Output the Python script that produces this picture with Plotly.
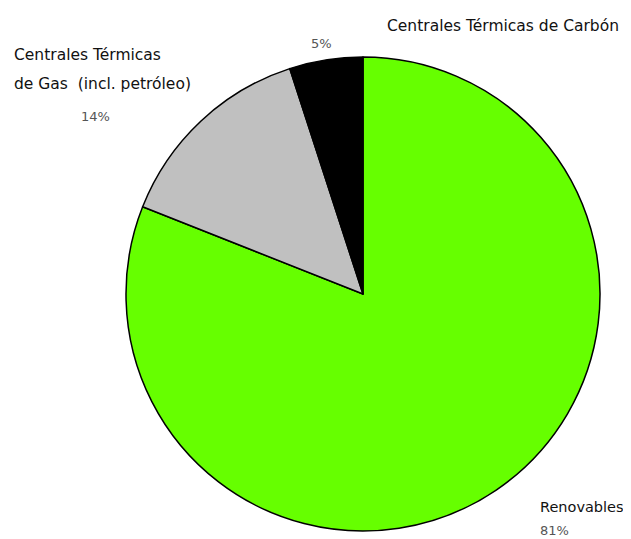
import plotly.graph_objects as go

# The page body has an 8px margin, so the figure is drawn 8px in from the window edge.
OFF = 8
W, H = 631 - OFF, 539 - OFF

labels = ["Renovables", "Centrales Térmicas de Gas  (incl. petróleo)", "Centrales Térmicas de Carbón"]
values = [81, 14, 5]
pct_text = ["81%", "14%", "5%"]
colors = ["#66FF00", "#C0C0C0", "#000000"]

# Pie placement in window pixels (center, radius)
cx, cy, r = 363, 294, 237

def px(x):
    return (x - OFF) / W

def py(y):
    return 1 - (y - OFF) / H

fig = go.Figure(go.Pie(
    labels=labels,
    values=values,
    sort=False,
    direction="clockwise",
    rotation=0,
    textinfo="none",
    hoverinfo="label+percent",
    marker=dict(colors=colors, line=dict(color="#000000", width=1.5)),
    domain=dict(x=[px(cx - r), px(cx + r)], y=[py(cy + r), py(cy - r)]),
    showlegend=False,
))

font_lbl = dict(family="DejaVu Sans", size=15.5, color="#111111")
font_ren = dict(family="DejaVu Sans", size=14.5, color="#111111")
font_pct = dict(family="DejaVu Sans", size=13, color="#555555")

ann = [
    # Carbón
    dict(x=px(385), y=py(26), text=labels[2], font=font_lbl, xanchor="left"),
    dict(x=px(309), y=py(43), text=pct_text[2], font=font_pct, xanchor="left"),
    # Gas
    dict(x=px(12), y=py(55), text="Centrales Térmicas", font=font_lbl, xanchor="left"),
    dict(x=px(12), y=py(84), text="de Gas  (incl. petróleo)", font=font_lbl, xanchor="left"),
    dict(x=px(79), y=py(116), text=pct_text[1], font=font_pct, xanchor="left"),
    # Renovables
    dict(x=px(538), y=py(507), text=labels[0], font=font_ren, xanchor="left"),
    dict(x=px(538), y=py(530), text=pct_text[0], font=font_pct, xanchor="left"),
]
for a in ann:
    a.update(xref="paper", yref="paper", yanchor="middle", showarrow=False)

fig.update_layout(
    width=W, height=H,
    margin=dict(l=0, r=0, t=0, b=0),
    paper_bgcolor="white",
    plot_bgcolor="white",
    annotations=ann,
)

fig.write_html("out.html")
